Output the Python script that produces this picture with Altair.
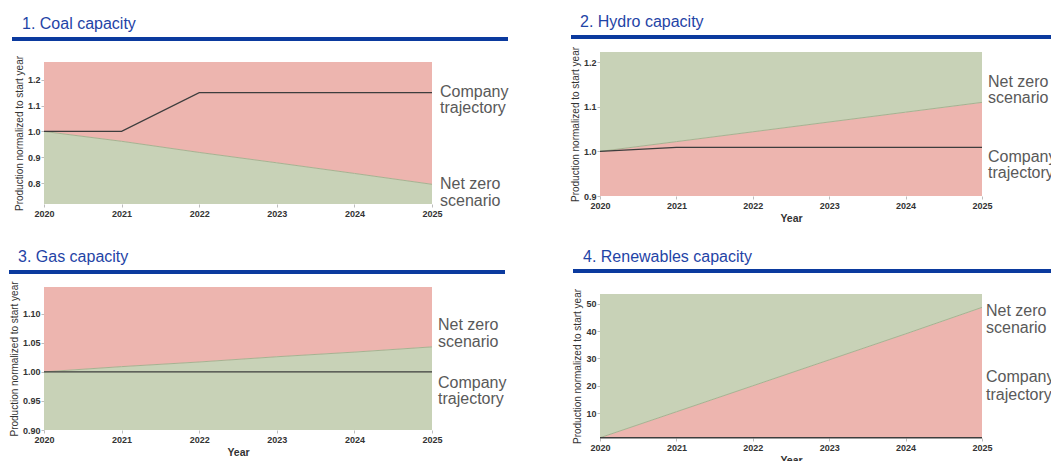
import altair as alt
import pandas as pd

# ---------------- data ----------------
years = [2020, 2021, 2022, 2023, 2024, 2025]

coal_company = [1.0, 1.0, 1.15, 1.15, 1.15, 1.15]
coal_net_zero = [1.0, 0.962, 0.919, 0.879, 0.838, 0.796]

hydro_company = [1.0, 1.009, 1.009, 1.009, 1.009, 1.009]
hydro_net_zero = [1.0, 1.022, 1.044, 1.066, 1.088, 1.11]

gas_company = [1.0, 1.0, 1.0, 1.0, 1.0, 1.0]
gas_net_zero = [1.0, 1.009, 1.017, 1.026, 1.034, 1.043]

ren_company = [1.0, 1.0, 1.0, 1.0, 1.0, 1.0]
ren_net_zero = [1.0, 10.5, 20.0, 29.5, 39.0, 48.7]

panel_titles = ["1. Coal capacity", "2.  Hydro capacity",
                "3. Gas capacity", "4. Renewables capacity"]
coal_ticks = [0.8, 0.9, 1.0, 1.1, 1.2]
hydro_ticks = [0.9, 1.0, 1.1, 1.2]
gas_ticks = [0.90, 0.95, 1.00, 1.05, 1.10]
ren_ticks = [10, 20, 30, 40, 50]
coal_domain = [0.72, 1.268]
hydro_domain = [0.9, 1.223]
gas_domain = [0.9, 1.146]
ren_domain = [0.9, 53.6]

y_title = "Production normalized to start year"
x_title = "Year"

# ---------------- styling ----------------
RED = "#EDB5AF"
GREEN = "#C8D2B7"
NZ_LINE = "#A6B291"
CO_LINE = "#3d3d3d"
TITLE_BLUE = "#1F44A6"
RULE_BLUE = "#0B3A9E"
LABEL_GREY = "#595959"
FONT = "Liberation Sans"

COL1_W, COL2_W = 388, 382
ROW1_H, ROW2_H = 152, 151


def panel(title, company, net_zero, domain, ticks, fmt, yrange, width, height,
          above, below, x_offset, show_xtitle, title_xy, rule_xyx2, labels):
    df = pd.DataFrame({"year": years, "company": company, "nz": net_zero})
    base = alt.Chart(df)
    xs = alt.Scale(domain=[2020, 2025], nice=False, zero=False)
    x = alt.X("year:Q", scale=xs,
              axis=alt.Axis(values=years, format="d", labelFlush=False,
                            offset=x_offset, title=x_title if show_xtitle else None))
    ys = alt.Scale(domain=domain, range=yrange, nice=False, zero=False)

    def yenc(field):
        return alt.Y(field + ":Q", scale=ys,
                     axis=alt.Axis(values=ticks, format=fmt, title=y_title))

    lower = base.mark_area(color=below, opacity=1).encode(
        x=x, y=yenc("nz"), y2=alt.datum(domain[0]))
    upper = base.mark_area(color=above, opacity=1).encode(
        x=x, y=yenc("nz"), y2=alt.datum(domain[1]))
    nzline = base.mark_line(color=NZ_LINE, strokeWidth=1).encode(
        x=x, y=yenc("nz"))
    coline = base.mark_line(color=CO_LINE, strokeWidth=1.3).encode(
        x=x, y=yenc("company"))

    one = alt.Chart(pd.DataFrame({"k": [0]}))
    ttl = one.mark_text(align="left", baseline="alphabetic", fontSize=16,
                        font=FONT, color=TITLE_BLUE).encode(
        x=alt.value(title_xy[0]), y=alt.value(title_xy[1]), text=alt.value(title))
    rule = one.mark_rule(color=RULE_BLUE, strokeWidth=4, strokeCap="butt").encode(
        x=alt.value(rule_xyx2[0]), x2=alt.value(rule_xyx2[2]), y=alt.value(rule_xyx2[1]))
    layers = [lower, upper, nzline, coline, rule, ttl]
    for txt, lx, ly in labels:
        layers.append(one.mark_text(align="left", baseline="middle", fontSize=16,
                                    font=FONT, color=LABEL_GREY).encode(
            x=alt.value(lx), y=alt.value(ly), text=alt.value(txt)))
    return alt.layer(*layers).properties(width=width, height=height)


p1 = panel(panel_titles[0], coal_company, coal_net_zero, coal_domain, coal_ticks, ".1f",
           [152, 10], COL1_W, ROW1_H, RED, GREEN, 0, False,
           (-22, -23), (-32, -13, 464),
           [("Company", 396, 40), ("trajectory", 396, 56),
            ("Net zero", 396, 132), ("scenario", 396, 149)])
p2 = panel(panel_titles[1], hydro_company, hydro_net_zero, hydro_domain, hydro_ticks, ".1f",
           [144, 0], COL2_W, ROW1_H, GREEN, RED, -8, True,
           (-20, -25), (-29, -15, 470),
           [("Net zero", 388, 30), ("scenario", 388, 46),
            ("Company", 388, 105), ("trajectory", 388, 121)])
p3 = panel(panel_titles[2], gas_company, gas_net_zero, gas_domain, gas_ticks, ".2f",
           [143, 0], COL1_W, ROW2_H, RED, GREEN, -8, True,
           (-26, -25), (-35, -15, 461),
           [("Net zero", 394, 38), ("scenario", 394, 55),
            ("Company", 394, 96), ("trajectory", 394, 112)])
p4 = panel(panel_titles[3], ren_company, ren_net_zero, ren_domain, ren_ticks, "d",
           [151, 7], COL2_W, ROW2_H, GREEN, RED, 0, True,
           (-17, -25), (-27, -16, 470),
           [("Net zero", 386, 24), ("scenario", 386, 41),
            ("Company", 386, 90), ("trajectory", 386, 108)])

chart = alt.concat(p1, p2, p3, p4, columns=2, spacing={"row": 83, "column": 168},
                   bounds="flush").properties(
    autosize=alt.AutoSizeParams(type="none"),
    padding={"left": 36, "top": 44, "right": 1007, "bottom": 409},
    background="white",
).configure_view(strokeWidth=0).configure_axis(
    domain=False, grid=False,
    labelFont=FONT, labelFontSize=9, labelFontWeight="bold", labelColor="#333333",
    labelPadding=1, tickColor="#bdbdbd", tickSize=3,
    titleFont=FONT, titleFontSize=10, titleFontWeight="normal", titleColor="#333333",
    titlePadding=3,
).configure_axisX(titleFontWeight="bold", titleFontSize=10.5, titlePadding=3, labelPadding=2)

chart.save("out.html", embed_options={"renderer": "svg", "actions": False})
